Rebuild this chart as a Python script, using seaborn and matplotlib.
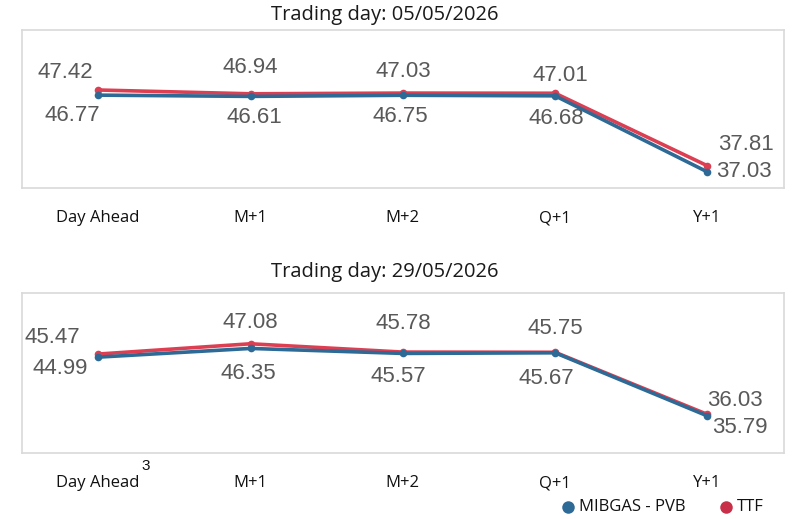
import numpy as np
import pandas as pd
import matplotlib
matplotlib.use("Agg")
import matplotlib.pyplot as plt
from matplotlib.lines import Line2D
import seaborn as sns

products = ["Day Ahead", "M+1", "M+2", "Q+1", "Y+1"]
hubs = ["MIBGAS - PVB", "TTF"]
titles = ["Trading day: 05/05/2026", "Trading day: 29/05/2026"]

mibgas_0505 = [46.77, 46.61, 46.75, 46.68, 37.03]
ttf_0505 = [47.42, 46.94, 47.03, 47.01, 37.81]
mibgas_2905 = [44.99, 46.35, 45.57, 45.67, 35.79]
ttf_2905 = [45.47, 47.08, 45.78, 45.75, 36.03]

colors = {"MIBGAS - PVB": "#2E6A96", "TTF": "#DC3F52"}
legend_colors = {"MIBGAS - PVB": "#2E6A96", "TTF": "#C8304A"}
label_color = "#595959"

# label offsets in pixels (dx, dy) relative to each point
offs_top = {
    "TTF": [(-33, 18), (0, 26), (0, 22), (5, 18), (39, 21)],
    "MIBGAS - PVB": [(-26, -20), (4, -21), (-3, -21), (1, -23), (36, 0)],
}
offs_bot = {
    "TTF": [(-46, 17), (0, 21), (0, 29), (0, 24), (27, 14)],
    "MIBGAS - PVB": [(-38, -11), (-2, -25), (-5, -23), (-9, -26), (32, -12)],
}


def long_df(mib, ttf):
    rows = []
    for h, vals in zip(hubs, [mib, ttf]):
        for i, (p, v) in enumerate(zip(products, vals)):
            rows.append({"hub": h, "pos": i, "product": p, "price": v})
    return pd.DataFrame(rows)


sns.set_style("white")
plt.rcParams["font.family"] = ["Liberation Sans", "DejaVu Sans"]

fig = plt.figure(figsize=(7.95, 5.19), dpi=100)
ax1 = fig.add_axes([0.0277, 0.6378, 0.958, 0.304])
ax2 = fig.add_axes([0.0277, 0.1272, 0.958, 0.308])

panels = [
    (ax1, long_df(mibgas_0505, ttf_0505), (35, 55), offs_top, titles[0], 15),
    (ax2, long_df(mibgas_2905, ttf_2905), (30, 55), offs_bot, titles[1], 272),
]

for ax, df, ylim, offs, title, ty in panels:
    for h in ["TTF", "MIBGAS - PVB"]:
        sub = df[df.hub == h]
        sns.lineplot(data=sub, x="pos", y="price", color=colors[h], marker="o",
                     markersize=5.5, markeredgewidth=0, linewidth=2.6,
                     sort=False, ax=ax, legend=False)
        for i, row in enumerate(sub.itertuples()):
            dx, dy = offs[h][i]
            ax.annotate("{:.2f}".format(row.price), (row.pos, row.price),
                        xytext=(dx, dy), textcoords="offset pixels",
                        ha="center", va="center", fontsize=16, color=label_color)
    ax.set_xlim(-0.5, 4.5)
    ax.set_ylim(*ylim)
    ax.set_xticks(range(len(products)))
    ax.set_xticklabels(products, fontsize=12, color="#111111", family="Open Sans")
    ax.tick_params(axis="x", length=0, pad=16)
    ax.set_yticks([])
    ax.set_xlabel("")
    ax.set_ylabel("")
    for s in ax.spines.values():
        s.set_color("#D9D9D9")
        s.set_linewidth(1.2)
    fig.text(385 / 795, 1 - ty / 519, title, fontsize=14.5, color="#1a1a1a",
             ha="center", va="center", family="Open Sans")

# superscript next to Day Ahead
fig.text(146 / 795, 1 - 466 / 519, "3", fontsize=11, ha="center", va="center", color="#111111")

# legend
for x, h in [(568, "MIBGAS - PVB"), (726, "TTF")]:
    fig.add_artist(Line2D([x / 795], [1 - 507 / 519], marker="o", markersize=9,
                          color=legend_colors[h], markeredgewidth=0,
                          transform=fig.transFigure))
    fig.text((x + 11) / 795, 1 - 507 / 519, h, color="#111111", fontsize=12,
             ha="left", va="center", family="Open Sans")

fig.savefig("out.png", dpi=100)
